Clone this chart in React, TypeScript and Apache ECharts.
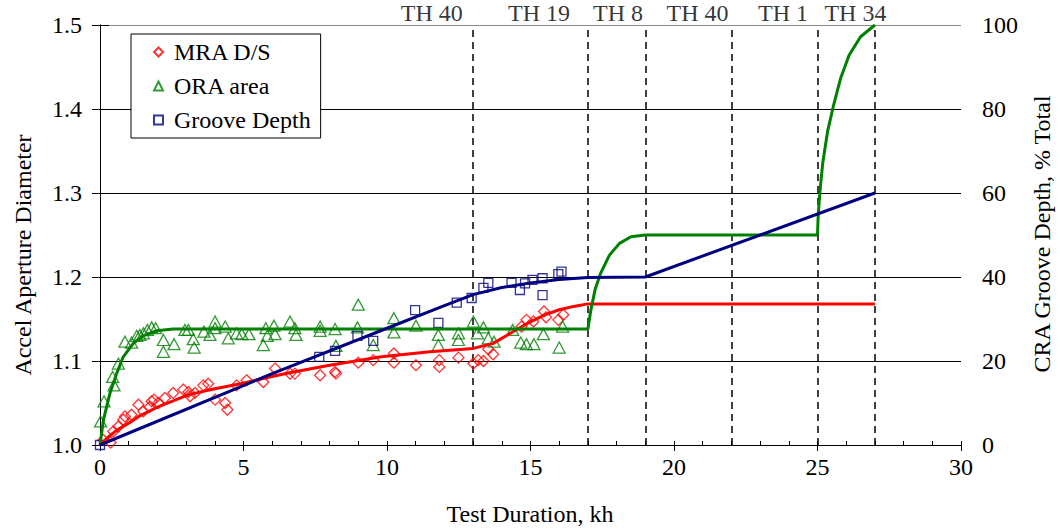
import React, { useEffect, useRef } from 'react';
import * as echarts from 'echarts';

const FONT = 'Liberation Serif';

// Phase boundaries (kh) and the thruster phase names written above the plot
const phaseBreaks = [13, 17, 19, 22, 25, 27];
const phaseNames = ['TH 40', 'TH 19', 'TH 8', 'TH 40', 'TH 1', 'TH 34'];
const phaseNameX = [11.56, 15.3, 18.05, 20.82, 23.8, 26.32];

// Measured points: [test duration kh, value]
const mraPoints: [number, number][] = [
  [0.12, 1.006], [0.37, 1.003], [0.46, 1.016], [0.64, 1.022], [0.81, 1.03], [0.87, 1.034],
  [1.1, 1.036], [1.34, 1.048], [1.51, 1.04], [1.72, 1.045], [1.8, 1.052], [1.88, 1.054],
  [2.03, 1.05], [2.26, 1.056], [2.55, 1.062], [2.9, 1.066], [3.08, 1.063], [3.14, 1.058],
  [3.31, 1.062], [3.6, 1.071], [3.77, 1.073], [4.01, 1.054], [4.36, 1.05], [4.44, 1.042],
  [4.76, 1.071], [5.11, 1.077], [5.69, 1.075], [6.1, 1.091], [6.62, 1.085], [6.79, 1.085],
  [7.67, 1.083], [8.19, 1.087], [8.22, 1.085], [9.0, 1.098], [9.52, 1.101], [10.24, 1.109],
  [10.24, 1.098], [11.01, 1.095], [11.82, 1.101], [11.82, 1.093], [12.49, 1.104], [13.01, 1.097],
  [13.18, 1.101], [13.36, 1.1], [13.53, 1.114], [13.7, 1.108], [14.69, 1.141], [14.86, 1.149],
  [15.1, 1.147], [15.47, 1.159], [15.54, 1.152], [15.97, 1.149], [16.14, 1.155],
];

const oraPoints: [number, number][] = [
  [0.02, 1.028], [0.14, 1.052], [0.44, 1.081], [0.49, 1.071], [0.64, 1.097], [0.87, 1.123],
  [1.1, 1.122], [1.28, 1.13], [1.39, 1.131], [1.51, 1.133], [1.65, 1.137], [1.8, 1.14],
  [1.94, 1.139], [2.21, 1.125], [2.21, 1.111], [2.58, 1.12], [2.96, 1.137], [3.08, 1.137],
  [3.25, 1.126], [3.28, 1.116], [3.62, 1.135], [3.83, 1.131], [4.01, 1.147], [4.01, 1.139],
  [4.36, 1.141], [4.47, 1.127], [4.76, 1.133], [4.94, 1.132], [5.19, 1.132], [5.69, 1.119],
  [5.78, 1.139], [5.83, 1.13], [6.06, 1.142], [6.1, 1.132], [6.62, 1.147], [6.79, 1.139],
  [6.83, 1.131], [7.67, 1.141], [7.67, 1.136], [8.19, 1.138], [8.22, 1.118], [8.97, 1.14],
  [9.0, 1.167], [9.52, 1.119], [10.24, 1.151], [10.24, 1.134], [11.01, 1.142], [11.79, 1.131],
  [11.79, 1.119], [12.49, 1.133], [12.49, 1.125], [13.01, 1.147], [13.15, 1.133], [13.36, 1.14],
  [13.53, 1.127], [13.73, 1.123], [14.38, 1.137], [14.66, 1.122], [14.86, 1.12], [15.12, 1.12],
  [15.45, 1.132], [16.0, 1.116], [16.12, 1.141],
];

// Groove depth, % of total (right axis)
const groovePoints: [number, number][] = [
  [0, 0], [7.64, 21.0], [8.19, 22.4], [8.97, 26.0], [9.52, 24.8], [10.98, 32.1], [11.79, 29.1],
  [12.43, 33.9], [12.95, 35.0], [13.36, 37.4], [13.53, 38.6], [14.34, 38.6], [14.63, 36.9],
  [14.81, 38.5], [15.07, 39.3], [15.42, 39.7], [15.42, 35.7], [15.97, 40.7], [16.08, 41.3],
];

// Fitted / projected curves
const mraFit: [number, number][] = [
  [0, 1.0], [0.3, 1.01], [0.6, 1.018], [1, 1.026], [1.4, 1.035], [2, 1.045], [2.5, 1.052],
  [3.1, 1.06], [4, 1.067], [4.9, 1.073], [5.8, 1.08], [6.6, 1.086], [8, 1.095], [9.8, 1.105],
  [11.5, 1.111], [13, 1.115], [13.7, 1.121], [14.3, 1.133], [14.9, 1.145], [15.5, 1.155],
  [16, 1.161], [16.5, 1.165], [17, 1.168], [27, 1.168],
];

const oraFit: [number, number][] = [
  [0, 1.0], [0.12, 1.03], [0.35, 1.062], [0.58, 1.085], [0.81, 1.105], [1.16, 1.121],
  [1.51, 1.13], [1.97, 1.136], [2.55, 1.138], [17, 1.138], [17.1, 1.16], [17.25, 1.185],
  [17.45, 1.205], [17.75, 1.226], [18.1, 1.24], [18.5, 1.248], [19, 1.25], [25, 1.25],
  [25.02, 1.27], [25.08, 1.3], [25.18, 1.335], [25.35, 1.373], [25.55, 1.403], [25.8, 1.436],
  [26.1, 1.464], [26.5, 1.486], [27, 1.5],
];

const grooveFit: [number, number][] = [
  [0, 0], [6, 17], [10, 27.8], [12, 33.2], [13, 35.8], [14, 37.5], [15, 38.6], [16, 39.4],
  [17, 39.9], [19, 40], [27, 60],
];

const RED = '#ff0000';
const GREEN = '#008000';
const NAVY = '#000080';

export default function App() {
  const ref = useRef<HTMLDivElement>(null);

  useEffect(() => {
    if (!ref.current) return;
    const chart = echarts.init(ref.current, null, { renderer: 'svg' });
    const text = { fontFamily: FONT, fontSize: 24, color: '#000' };

    chart.setOption({
      animation: false,
      grid: { left: 100, right: 99, top: 25, bottom: 84 },
      legend: {
        data: ['MRA D/S', 'ORA area', 'Groove Depth'],
        orient: 'vertical',
        left: 131,
        top: 34,
        backgroundColor: '#fff',
        borderColor: '#000',
        borderWidth: 1,
        borderRadius: 0,
        padding: [6, 10, 6, 22],
        itemWidth: 9,
        itemHeight: 9,
        itemGap: 10,
        selectedMode: false,
        textStyle: { ...text, padding: [0, 0, 0, 6] },
      },
      xAxis: [
        {
          type: 'value',
          min: 0,
          max: 30,
          interval: 5,
          axisLine: { lineStyle: { color: '#000', width: 1 } },
          axisTick: { show: true, inside: false, length: 6, lineStyle: { color: '#000' } },
          axisLabel: { ...text, margin: 10 },
          splitLine: { show: false },
        },
        {
          // small inward ticks every 1 kh along the bottom edge
          type: 'value',
          position: 'top',
          offset: -420,
          min: 0,
          max: 30,
          interval: 1,
          axisLine: { show: false },
          axisTick: { show: true, inside: false, length: 4, lineStyle: { color: '#000' } },
          axisLabel: { show: false },
          splitLine: { show: false },
        },
      ],
      yAxis: [
        {
          type: 'value',
          min: 1.0,
          max: 1.5,
          interval: 0.1,
          axisLine: { show: true, lineStyle: { color: '#000', width: 1 } },
          axisTick: { show: true, length: 8, lineStyle: { color: '#000' } },
          axisLabel: { ...text, margin: 18, formatter: (v: number) => v.toFixed(1) },
          splitLine: {
            show: true,
            lineStyle: { color: ['#000', '#000', '#000', '#000', '#000', '#8a8a8a'], width: 1 },
          },
        },
        {
          type: 'value',
          position: 'right',
          min: 0,
          max: 100,
          interval: 20,
          axisLine: { show: true, lineStyle: { color: '#000', width: 1 } },
          axisTick: { show: true, length: 9, lineStyle: { color: '#000' } },
          axisLabel: { ...text, margin: 21 },
          splitLine: { show: false },
        },
      ],
      graphic: [
        {
          type: 'text',
          x: 23,
          y: 255,
          rotation: Math.PI / 2,
          style: { text: 'Accel Aperture Diameter', fontFamily: FONT, fontSize: 24, fill: '#000', textAlign: 'center', textVerticalAlign: 'middle' },
        },
        {
          type: 'text',
          x: 1042,
          y: 234,
          rotation: Math.PI / 2,
          style: { text: 'CRA Groove Depth, % Total', fontFamily: FONT, fontSize: 24, fill: '#000', textAlign: 'center', textVerticalAlign: 'middle' },
        },
        {
          type: 'text',
          x: 530,
          y: 514,
          style: { text: 'Test Duration, kh', fontFamily: FONT, fontSize: 24, fill: '#000', textAlign: 'center', textVerticalAlign: 'middle' },
        },
      ],
      series: [
        {
          name: 'MRA D/S',
          type: 'scatter',
          data: mraPoints,
          symbol: 'diamond',
          symbolSize: 11,
          itemStyle: { color: 'transparent', borderColor: RED, borderWidth: 1.3 },
          z: 3,
        },
        {
          name: 'ORA area',
          type: 'scatter',
          data: oraPoints,
          symbol: 'triangle',
          symbolSize: [12, 11],
          itemStyle: { color: 'transparent', borderColor: GREEN, borderWidth: 1.3 },
          z: 3,
        },
        {
          name: 'Groove Depth',
          type: 'scatter',
          yAxisIndex: 1,
          data: groovePoints,
          symbol: 'rect',
          symbolSize: 9,
          itemStyle: { color: 'transparent', borderColor: NAVY, borderWidth: 1.3 },
          z: 3,
        },
        {
          name: 'mraFit',
          type: 'line',
          data: mraFit,
          showSymbol: false,
          symbol: 'none',
          lineStyle: { color: RED, width: 3 },
          z: 4,
          markLine: {
            silent: true,
            symbol: 'none',
            label: { show: false },
            lineStyle: { color: '#000', width: 1.5, type: [7, 5] },
            data: phaseBreaks.map((x) => ({ xAxis: x })),
            z: 1,
          },
        },
        {
          name: 'oraFit',
          type: 'line',
          data: oraFit,
          showSymbol: false,
          symbol: 'none',
          lineStyle: { color: GREEN, width: 3 },
          z: 4,
        },
        {
          name: 'grooveFit',
          type: 'line',
          yAxisIndex: 1,
          data: grooveFit,
          showSymbol: false,
          symbol: 'none',
          lineStyle: { color: NAVY, width: 3 },
          z: 4,
        },
        {
          name: 'phases',
          type: 'scatter',
          silent: true,
          data: phaseNameX.map((x, i) => [x, 1.5, phaseNames[i]]),
          symbolSize: 1,
          itemStyle: { color: 'transparent' },
          label: {
            show: true,
            position: 'top',
            distance: 0,
            formatter: (p: any) => p.data[2],
            ...text,
          },
          z: 5,
        },
      ],
    });

    return () => chart.dispose();
  }, []);

  return (
    <div
      ref={ref}
      style={{ position: 'fixed', left: 0, top: 0, width: 1060, height: 529, background: '#fff' }}
    />
  );
}
